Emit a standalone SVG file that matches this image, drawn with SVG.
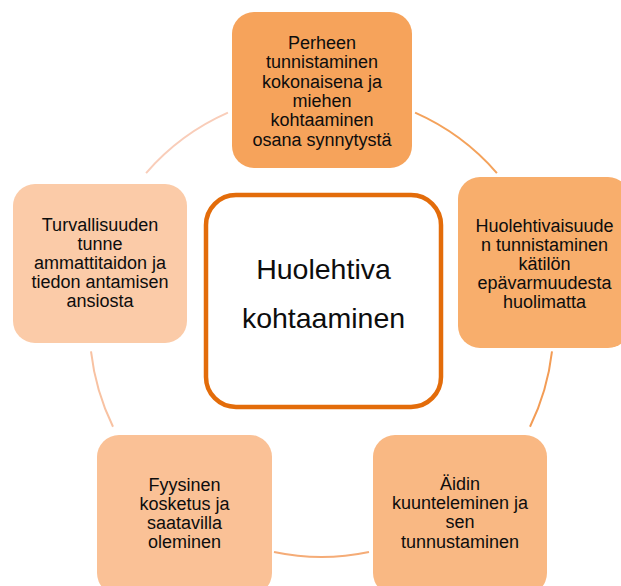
<svg xmlns="http://www.w3.org/2000/svg" width="621" height="586" viewBox="0 0 621 586">
<style>
.t{font-family:"Liberation Sans",Arial,sans-serif;font-size:18px;fill:#0d0d0d;text-anchor:middle}
.c{font-family:"Liberation Sans",Arial,sans-serif;font-size:28.5px;fill:#0d0d0d;text-anchor:middle}
.arc{fill:none;stroke-width:2;stroke-linecap:butt}
</style>
<rect width="621" height="586" fill="#ffffff"/>
<g id="connectors">
<path class="arc" stroke="#F4A25B" d="M415.1,112.7 A232,232 0 0 1 496.9,173.1"/>
<path class="arc" stroke="#F39C55" d="M552,351.3 A232,232 0 0 1 530,426.7"/>
<path class="arc" stroke="#F5AC77" d="M369,552.1 A232,232 0 0 1 274,552.1"/>
<path class="arc" stroke="#F8C2A2" d="M113,426.7 A232,232 0 0 1 91,351.3"/>
<path class="arc" stroke="#F9CDB9" d="M146.1,173.1 A232,232 0 0 1 227.9,112.7"/>
</g>
<g id="center">
<rect x="206" y="195" width="235" height="212" rx="30" fill="#ffffff" stroke="#E36C0A" stroke-width="4.5"/>
<text class="c" x="323.5" y="279">Huolehtiva</text>
<text class="c" x="323.5" y="328">kohtaaminen</text>
</g>
<g id="node-top">
<rect x="232" y="12" width="180" height="156" rx="22" fill="#F6A35B"/>
<text class="t" x="322" y="49">Perheen</text>
<text class="t" x="322" y="68.3">tunnistaminen</text>
<text class="t" x="322" y="87.6">kokonaisena ja</text>
<text class="t" x="322" y="106.9">miehen</text>
<text class="t" x="322" y="126.2">kohtaaminen</text>
<text class="t" x="322" y="145.5">osana synnytystä</text>
</g>
<g id="node-right">
<rect x="458" y="177" width="172" height="171" rx="22" fill="#F8AE6C"/>
<text class="t" x="544.5" y="232">Huolehtivaisuude</text>
<text class="t" x="544.5" y="251">n tunnistaminen</text>
<text class="t" x="544.5" y="270">kätilön</text>
<text class="t" x="544.5" y="289">epävarmuudesta</text>
<text class="t" x="544.5" y="308">huolimatta</text>
</g>
<g id="node-bottom-right">
<rect x="373" y="435" width="174" height="160" rx="22" fill="#F9B883"/>
<text class="t" x="460" y="490">Äidin</text>
<text class="t" x="460" y="509.3">kuunteleminen ja</text>
<text class="t" x="460" y="528.3">sen</text>
<text class="t" x="460" y="547.7">tunnustaminen</text>
</g>
<g id="node-bottom-left">
<rect x="97" y="435" width="175" height="160" rx="22" fill="#FAC196"/>
<text class="t" x="184.5" y="490.7">Fyysinen</text>
<text class="t" x="184.5" y="510">kosketus ja</text>
<text class="t" x="184.5" y="529.3">saatavilla</text>
<text class="t" x="184.5" y="547.7">oleminen</text>
</g>
<g id="node-left">
<rect x="13" y="184" width="174" height="159" rx="22" fill="#FBCBA8"/>
<text class="t" x="100" y="230.7">Turvallisuuden</text>
<text class="t" x="100" y="250">tunne</text>
<text class="t" x="100" y="269">ammattitaidon ja</text>
<text class="t" x="100" y="288.3">tiedon antamisen</text>
<text class="t" x="100" y="307.3">ansiosta</text>
</g>
</svg>
